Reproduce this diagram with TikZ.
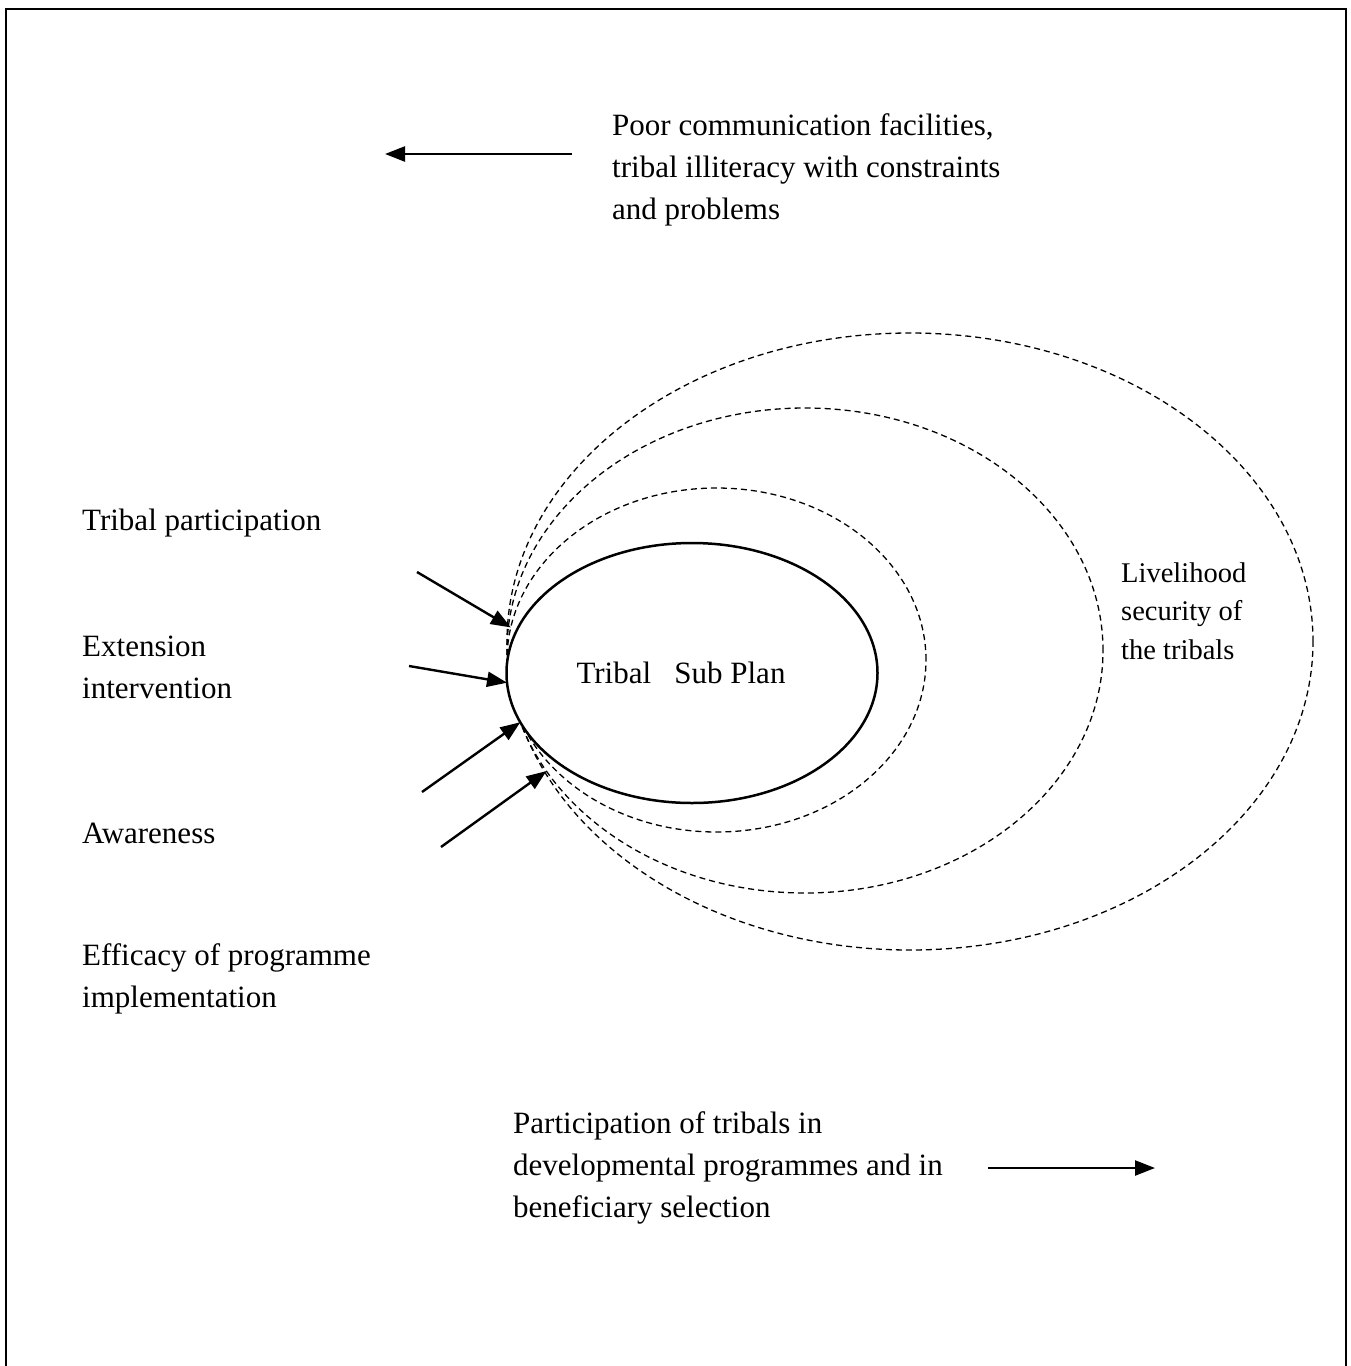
\documentclass[tikz,border=0pt]{standalone}
\usepackage{fontspec}
\setmainfont{Liberation Serif}
\usepackage{tikz}
\usetikzlibrary{arrows.meta,shapes.geometric}

\begin{document}
\begin{tikzpicture}[x=1pt,y=-1pt,
    txt/.style={anchor=west,align=left,inner sep=0pt,font=\fontsize{31}{42}\selectfont},
    ring/.style={ellipse,draw,inner sep=0pt,outer sep=0pt,line width=1.3pt,dash pattern=on 6pt off 4pt},
    arr/.style={line width=2.4pt,-{Triangle[length=20pt,width=15pt]}}]
    \useasboundingbox (0,0) rectangle (1351,1366);
    \draw[line width=2.5pt] (6,1366) -- (6,9) -- (1346,9) -- (1346,1366);
    \node[ring,minimum width=806pt,minimum height=617pt] (outer) at (910,641.5) {};
    \node[ring,minimum width=596pt,minimum height=485pt] (middle) at (805,650.5) {};
    \node[ring,minimum width=419pt,minimum height=344pt] (inner) at (716.5,660) {};
    \node[ellipse,draw,fill=white,line width=2.5pt,inner sep=0pt,outer sep=0pt,minimum width=371pt,minimum height=260pt,font=\fontsize{31}{42}\selectfont] (tsp) at (692,673) {Tribal\ \ \ Sub Plan\hspace*{22pt}};
    \node[txt] (poor) at (612,170) {Poor communication facilities,\\tribal illiteracy with constraints\\and problems};
    \node[txt] (tribal) at (82,523) {Tribal participation};
    \node[txt] (ext) at (82,667) {Extension\\intervention};
    \node[txt] (aware) at (82,833) {Awareness};
    \node[txt] (eff) at (82,979) {Efficacy of programme\\implementation};
    \node[txt] (part) at (513,1168) {Participation of tribals in\\developmental programmes and in\\beneficiary selection};
    \node[txt,font=\fontsize{28.5}{38.5}\selectfont] (live) at (1121,611) {Livelihood\\security of\\the tribals};
    \coordinate (a1) at (417,572);
    \coordinate (a2) at (409,666);
    \coordinate (a3) at (422,792);
    \coordinate (a4) at (441,847);
    \draw[arr] (a1) -- (inner.171);
    \draw[arr] (a2) -- (tsp.183);
    \draw[arr] (a3) -- (tsp.196);
    \draw[arr] (a4) -- (middle.205);
    \coordinate (pa) at (572,154);
    \coordinate (pb) at (385,154);
    \draw[arr] (pa) -- (pb);
    \coordinate (qa) at (988,1168);
    \coordinate (qb) at (1155,1168);
    \draw[arr] (qa) -- (qb);
\end{tikzpicture}
\end{document}
